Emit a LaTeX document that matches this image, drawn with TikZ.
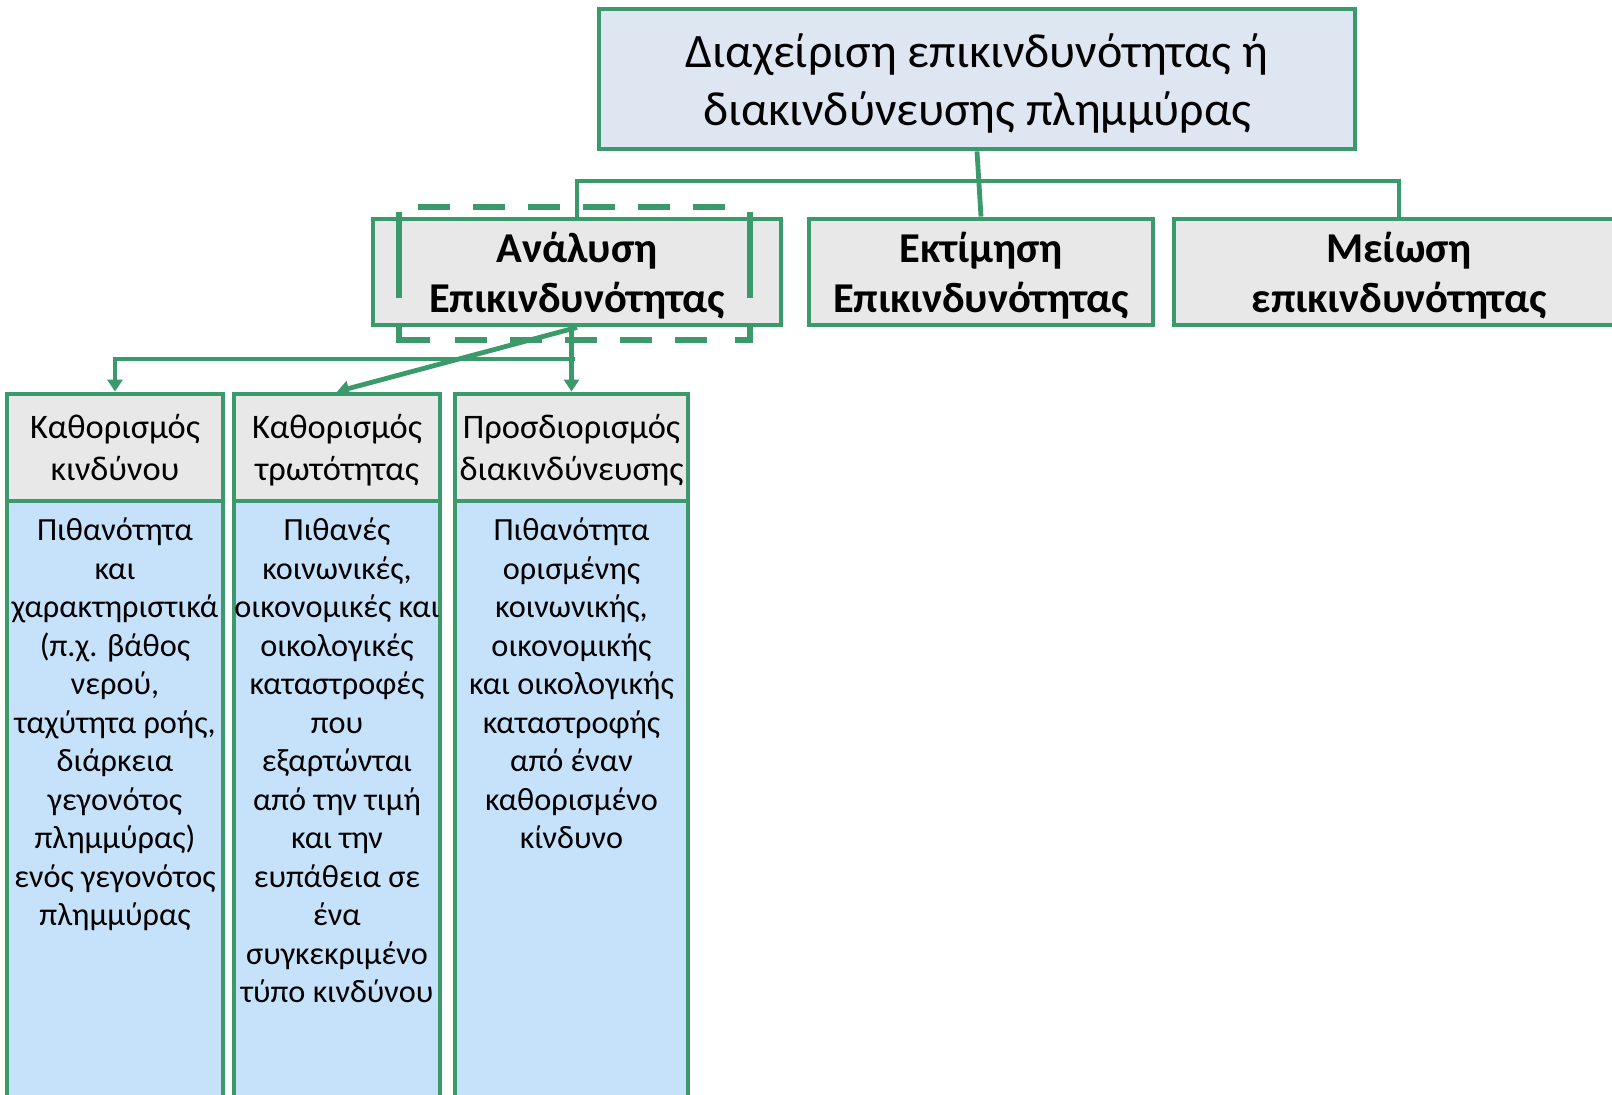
\documentclass[tikz,border=0pt]{standalone}
\usepackage{fontspec}
\setmainfont{Carlito}
\usetikzlibrary{arrows.meta}
\definecolor{edge}{RGB}{58,154,107}
\definecolor{topfill}{RGB}{222,230,242}
\definecolor{headfill}{RGB}{232,232,232}
\definecolor{bodyfill}{RGB}{198,225,250}
% invisible rules that fix the height of a first line / depth of a last line
\newcommand\capstrut[1]{\rule{0pt}{#1}}
\newcommand\descstrut[1]{\rule[-#1]{0pt}{#1}}
\begin{document}
\begin{tikzpicture}[x=1pt,y=-1pt,
  box/.style={draw=edge, line width=4.8pt, inner sep=0pt, align=center, text=black},
  rootbox/.style={box, fill=topfill, font=\fontsize{48}{58}\selectfont},
  phasebox/.style={box, fill=headfill, minimum height=106pt, font=\bfseries\fontsize{42.5}{50}\selectfont},
  taskhead/.style={box, fill=headfill, minimum height=107pt, font=\fontsize{34.4}{42}\selectfont},
  taskbody/.style={box, fill=bodyfill, minimum height=619pt},
  bodytext/.style={inner sep=0pt, align=center, anchor=north, font=\fontsize{32.3}{38.5}\selectfont},
  link/.style={draw=edge, line width=4.8pt},
  arr/.style={link, -{Triangle[width=15pt,length=12pt]}},
  focus/.style={draw=edge, line width=6pt},
]
\clip (0,0) rectangle (1612,1095);

% top level
\node[rootbox, minimum width=756pt, minimum height=140pt] (root) at (977,79)
  {\capstrut{42.5pt}Διαχείριση επικινδυνότητας ή\\διακινδύνευσης πλημμύρας};

% phases
\node[phasebox, minimum width=408pt] (ana) at (577,272) {\capstrut{37pt}Ανάλυση\\Επικινδυνότητας};
\node[phasebox, minimum width=344pt] (est) at (981,272) {\capstrut{37pt}Εκτίμηση\\Επικινδυνότητας};
\node[phasebox, minimum width=450pt] (mei) at (1399,272) {\capstrut{37pt}Μείωση\\επικινδυνότητας};

% analysis tasks: bodies
\node[taskbody, minimum width=216pt] (b1) at (115,810.5) {};
\node[taskbody, minimum width=206pt] (b2) at (337,810.5) {};
\node[taskbody, minimum width=233pt] (b3) at (571.5,810.5) {};

% analysis tasks: headers
\node[taskhead, minimum width=216pt] (k1) at (115,447.5) {\capstrut{35pt}Καθορισμός\\κινδύνου\descstrut{12pt}};
\node[taskhead, minimum width=206pt] (k2) at (337,447.5) {\capstrut{35pt}Καθορισμός\\τρωτότητας\descstrut{12pt}};
\node[taskhead, minimum width=233pt] (k3) at (571.5,447.5) {\capstrut{35pt}Προσδιορισμός\\διακινδύνευσης\descstrut{12pt}};

% descriptions
\node[bodytext] (t1) at (b1.north |- 0,518) {Πιθανότητα\\και\\χαρακτηριστικά\\(π.χ. βάθος\\νερού,\\ταχύτητα ροής,\\διάρκεια\\γεγονότος\\πλημμύρας)\\ενός γεγονότος\\πλημμύρας};
\node[bodytext] (t2) at (b2.north |- 0,518) {Πιθανές\\κοινωνικές,\\οικονομικές και\\οικολογικές\\καταστροφές\\που\\εξαρτώνται\\από την τιμή\\και την\\ευπάθεια σε\\ένα\\συγκεκριμένο\\τύπο κινδύνου};
\node[bodytext] (t3) at (b3.north |- 0,518) {Πιθανότητα\\ορισμένης\\κοινωνικής,\\οικονομικής\\και οικολογικής\\καταστροφής\\από έναν\\καθορισμένο\\κίνδυνο};

% hierarchy links
\coordinate (bus) at (577,181);
\draw[link] (root.south) -- (est.north);
\draw[link] (ana.north) -- (ana.north |- bus) -- (mei.north |- bus) -- (mei.north);

\coordinate (split) at (575,359);
\draw[arr] (k3.north |- ana.south) -- (k3.north);
\draw[arr] (split) -| (k1.north);
\draw[arr] (ana.south) -- (k2.north);

% dashed focus frame around the analysis phase
\draw[focus] (399,212) -- (399,298);
\draw[focus] (750,212) -- (750,298);
\draw[focus] (399,327) -- (399,340) -- (430,340);
\draw[focus] (750,327) -- (750,340) -- (735,340);
\draw[focus, dash pattern=on 32pt off 23pt] (418,207) -- (730,207);
\draw[focus, dash pattern=on 32pt off 23pt] (455,340) -- (710,340);
\end{tikzpicture}
\end{document}
